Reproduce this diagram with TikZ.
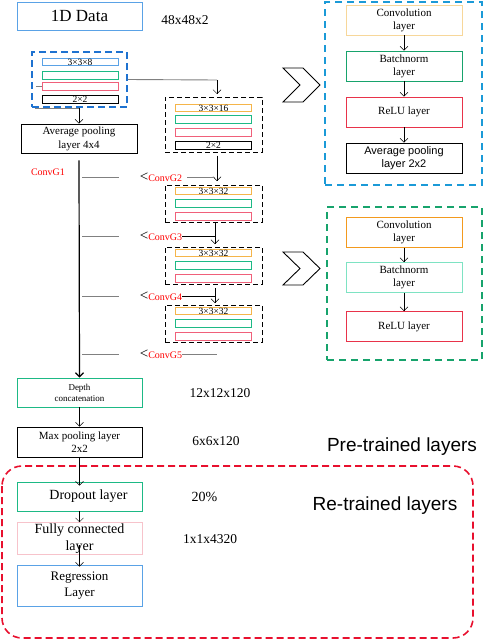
\documentclass[tikz,border=0pt]{standalone}
\usepackage{fontspec}
\setmainfont{Liberation Serif}
\setsansfont{Liberation Sans}
\usetikzlibrary{arrows.meta}
\definecolor{lblue}{HTML}{5AA2E6}
\definecolor{dblue}{HTML}{1E72D0}
\definecolor{cblue}{HTML}{1B9AD7}
\definecolor{bgreen}{HTML}{1DB985}
\definecolor{dgreen}{HTML}{17A36C}
\definecolor{lteal}{HTML}{7EE3C3}
\definecolor{bpink}{HTML}{F0607A}
\definecolor{lpink}{HTML}{F7C3CB}
\definecolor{bred}{HTML}{E8334A}
\definecolor{rdash}{HTML}{E8102E}
\definecolor{lorange}{HTML}{F7D79A}
\definecolor{borange}{HTML}{F5B54A}
\definecolor{dorange}{HTML}{F39A1E}
\begin{document}
\begin{tikzpicture}[x=1pt,y=-1pt,>={Straight Barb[length=4pt,width=8pt]},
	box/.style={draw,minimum width=125pt,minimum height=29pt,align=center,line width=0.9pt,inner sep=1pt},
	bar/.style={draw,minimum width=76pt,minimum height=7.5pt,inner sep=0pt,line width=0.9pt,font=\fontsize{9.5}{8}\selectfont},
	rbox/.style={draw,minimum width=116pt,minimum height=30pt,align=center,line width=0.9pt,inner sep=1pt,font=\fontsize{11}{13}\selectfont},
	grp/.style={draw,dash pattern=on 5pt off 3pt,line width=1pt,minimum width=97pt,inner sep=0pt},
	cg/.style={text=red,font=\fontsize{10}{10}\selectfont,inner sep=0pt},
	dim/.style={font=\fontsize{13.5}{14}\selectfont},
	big/.style={font=\sffamily\fontsize{19}{20}\selectfont}]
	\useasboundingbox (0,0) rectangle (484,640);
	% left column
	\node[box,draw=lblue,minimum height=28pt,font=\fontsize{17}{18}\selectfont] (data) at (79.5,16) {1D Data};
	\node[dim] (d1) at (185,20) {48x48x2};
	\node[grp,draw=dblue,line width=1.6pt,dash pattern=on 7pt off 4pt,minimum width=95pt,minimum height=55pt] (g1) at (79.5,79.5) {};
	\node[bar,draw=lblue] (b11) at (80,62) {3×3×8};
	\node[bar,draw=bgreen] (b12) at (80,75.5) {};
	\node[bar,draw=bpink] (b13) at (80,86.5) {};
	\node[bar] (b14) at (80,99.5) {2×2};
	\draw[gray] (b13.west) -- ++(-6,0);
	\node[box,minimum width=116pt,font=\fontsize{11}{14}\selectfont] (avg) at (79,138.5) {Average pooling\\layer 4x4};
	\coordinate (g1s) at (35,108);
	\draw[gray] (g1s) -- (g1s -| avg.north);
	\draw[->] (g1s -| avg.north) -- (avg.north);
	\node[cg] (cg1) at (48,172) {ConvG1};
	% branch column
	\node[grp,minimum height=55pt] (box2) at (213.5,124.5) {};
	\node[bar,draw=borange] (b21) at (213.5,108) {3×3×16};
	\node[bar,draw=bgreen] (b22) at (213.5,119.5) {};
	\node[bar,draw=bpink] (b23) at (213.5,132.5) {};
	\node[bar] (b24) at (213.5,145.5) {2×2};
	\draw[gray,line width=0.9pt] (g1.east) -- (217,80);
	\draw[->] (217,80) -- (217,94);
	\foreach \i/\y in {3/203.5,4/265.5,5/323.5}{
		\node[grp,minimum height=37pt] (box\i) at (213.5,\y) {};
		\node[bar,draw=borange] (b\i1) at (213.5,{\y-12.5}) {3×3×32};
		\node[bar,draw=bgreen] (b\i2) at (213.5,\y) {};
		\node[bar,draw=bpink] (b\i3) at (213.5,{\y+13}) {};
	}
	\draw[->] (box2.south -| 217,0) ++(0,3) -- (217,181);
	\draw[->] (215,223) -- (215,244);
	\draw[->] (215,288) -- (215,303);
	\foreach \i/\y in {2/177,3/236,4/296,5/354}{
		\node[cg] (cg\i) at (161,\y) {{\color{black}\fontsize{15}{15}\selectfont<}ConvG\i};
		\coordinate (l\i) at (82,\y);
		\draw[gray] (l\i) -- ++(37,0);
	}
	\draw[gray] (cg2.east) ++(5,0) -- (215,177);
	\draw (cg3.east) -- (215,236);
	\draw (cg4.east) -- (215,296);
	\draw[gray] (cg5.east) -- (217,354);
	% bottom
	\node[box,draw=bgreen,font=\fontsize{9}{11}\selectfont] (dep) at (79.5,392.5) {Depth\\concatenation};
	\draw[->,line width=1.2pt] (avg.south) ++(0,7) -- (dep.north);
	\node[dim] (d2) at (220,393) {12x12x120};
	\node[box,minimum height=30pt,font=\fontsize{11}{13}\selectfont] (maxp) at (79.5,442) {Max pooling layer\\2x2};
	\node[dim] (d3) at (216,441) {6x6x120};
	\node[big] (pre) at (402,447) {Pre-trained layers};
	\draw[rdash,line width=1.6pt,dash pattern=on 7pt off 4pt,rounded corners=20pt] (2,466) rectangle (473,638);
	\node[box,draw=bgreen,font=\fontsize{14}{15}\selectfont] (drop) at (79.5,496.5) {\hspace*{18pt}Dropout layer};
	\node[dim,font=\fontsize{14}{15}\selectfont] (d4) at (204.5,497) {20\%};
	\node[big] (ret) at (385,506) {Re-trained layers};
	\node[box,draw=lpink,font=\fontsize{14}{17}\selectfont] (fc) at (79.5,538.5) {Fully connected\\layer};
	\node[dim] (d5) at (210,539) {1x1x4320};
	\node[box,draw=lblue,minimum height=41pt,font=\fontsize{13}{16}\selectfont] (reg) at (79.5,585.5) {Regression\\Layer};
	\draw[->] (dep) -- (maxp);
	\draw[->] (maxp.south) -- ([yshift=-4pt]drop.north);
	\draw[->] (drop) -- (fc);
	\draw[->] (fc.south) ++(0,-10) -- ([yshift=-2pt]reg.north);
	% right blocks
	\node[draw=cblue,line width=1.6pt,dash pattern=on 7pt off 5pt,minimum width=157pt,minimum height=183pt] (rb) at (403.5,93.5) {};
	\node[rbox,draw=lorange] (conv1) at (404,20) {Convolution\\layer};
	\node[rbox,draw=dgreen] (bn1) at (404,66) {Batchnorm\\layer};
	\node[rbox,draw=bred] (relu1) at (404,112) {ReLU layer};
	\node[rbox,font=\sffamily\fontsize{11}{13}\selectfont] (ap1) at (404,158) {Average pooling\\layer 2x2};
	\draw[->] (conv1) -- (bn1);
	\draw[->] (bn1) -- (relu1);
	\draw[->] (relu1) -- (ap1);
	\node[draw=dgreen,line width=1.6pt,dash pattern=on 7pt off 5pt,minimum width=155pt,minimum height=153pt] (gb) at (404.5,283.5) {};
	\node[rbox,draw=dorange] (conv2) at (404,232.5) {Convolution\\layer};
	\node[rbox,draw=lteal] (bn2) at (404,277.5) {Batchnorm\\layer};
	\node[rbox,draw=bred] (relu2) at (404,326.5) {ReLU layer};
	\draw[->] (conv2) -- (bn2);
	\draw[->] (bn2) -- (relu2);
	\draw[line width=0.9pt] (283,68) -- (303,68) -- (320,85) -- (303,102) -- (283,102) -- (300,85) -- cycle;
	\draw[line width=0.9pt] (283,252) -- (303,252) -- (320,268.5) -- (303,285) -- (283,285) -- (300,268.5) -- cycle;
\end{tikzpicture}
\end{document}
